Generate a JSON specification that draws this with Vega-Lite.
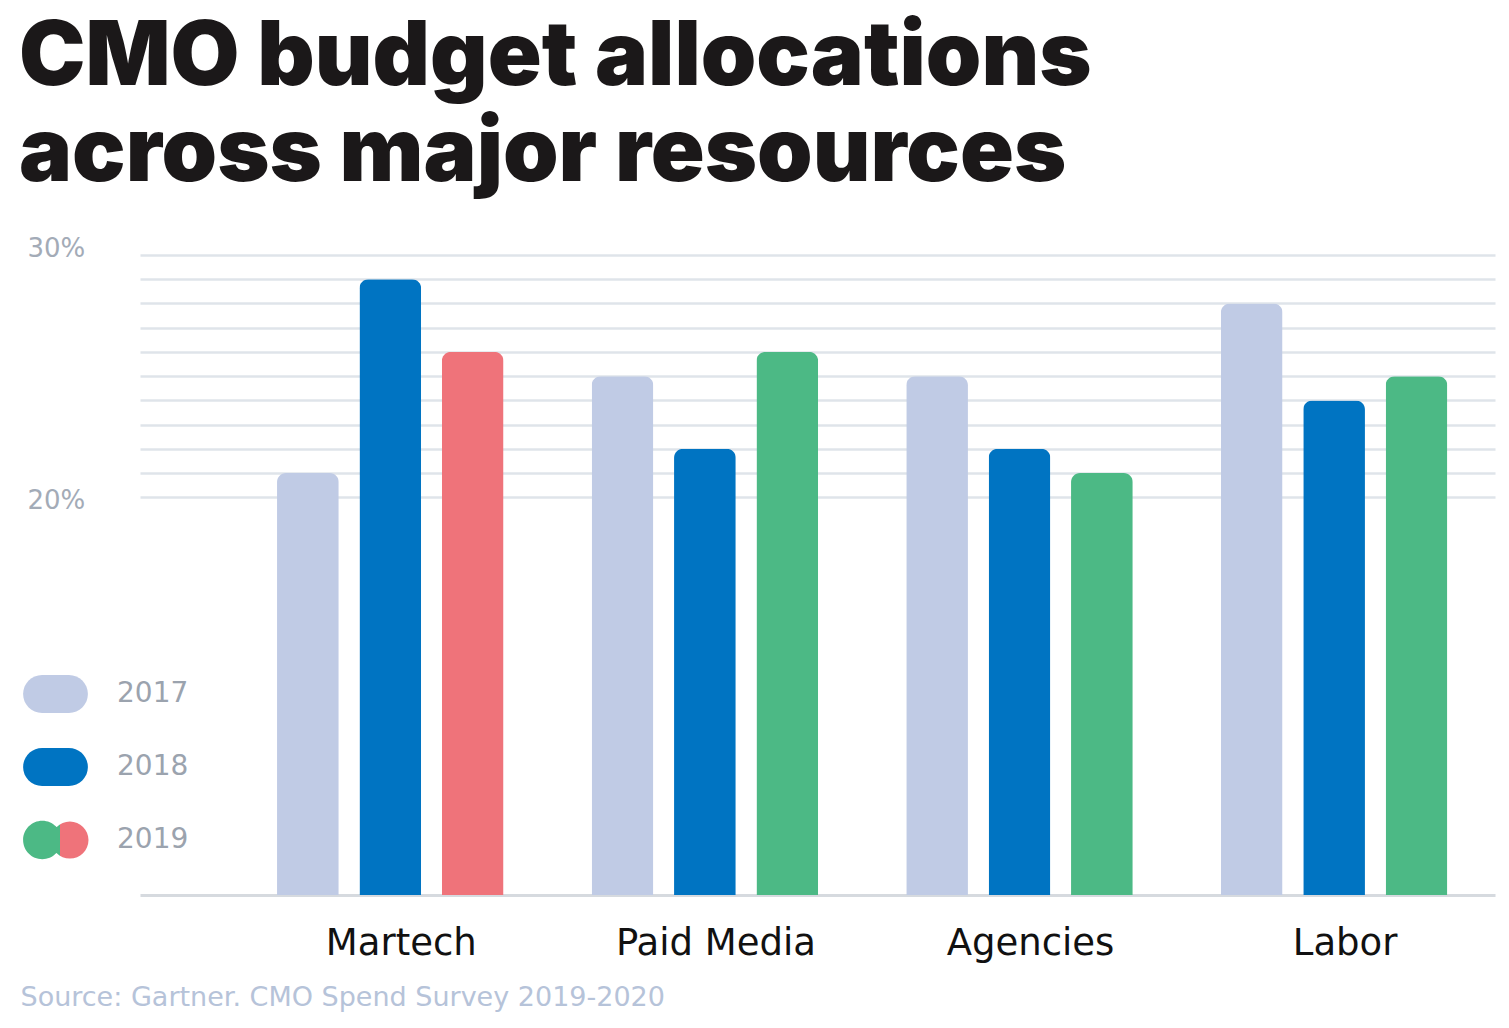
{
  "$schema": "https://vega.github.io/schema/vega-lite/v6.json",
  "width": 1355,
  "height": 640,
  "autosize": "none",
  "padding": {"left": 140, "top": 255, "right": 14, "bottom": 133},
  "background": "#ffffff",
  "config": {"view": {"stroke": null}, "font": "DejaVu Sans"},
  "title": {
    "text": ["CMO budget allocations", "across major resources"],
    "anchor": "start",
    "frame": "group",
    "font": "Inter",
    "fontWeight": 900,
    "fontSize": 89,
    "lineHeight": 96,
    "color": "#1b1819",
    "dx": -121,
    "offset": 35
  },
  "data": {
    "values": [
      {"resource": "Martech", "year": "2017", "share": 21},
      {"resource": "Martech", "year": "2018", "share": 29},
      {"resource": "Martech", "year": "2019", "share": 26},
      {"resource": "Paid Media", "year": "2017", "share": 25},
      {"resource": "Paid Media", "year": "2018", "share": 22},
      {"resource": "Paid Media", "year": "2019", "share": 26},
      {"resource": "Agencies", "year": "2017", "share": 25},
      {"resource": "Agencies", "year": "2018", "share": 22},
      {"resource": "Agencies", "year": "2019", "share": 21},
      {"resource": "Labor", "year": "2017", "share": 28},
      {"resource": "Labor", "year": "2018", "share": 24},
      {"resource": "Labor", "year": "2019", "share": 25}
    ]
  },
  "mark": {"type": "bar", "cornerRadiusTopLeft": 9, "cornerRadiusTopRight": 9},
  "encoding": {
    "x": {
      "field": "resource",
      "type": "nominal",
      "sort": ["Martech", "Paid Media", "Agencies", "Labor"],
      "scale": {"paddingInner": 0.28, "paddingOuter": 0.2935, "align": 0.742},
      "axis": {
        "title": "Source: Gartner. CMO Spend Survey 2019-2020",
        "titleFont": "DejaVu Sans",
        "titleFontSize": 27,
        "titleFontWeight": "normal",
        "titleColor": "#b6c3d9",
        "titleAnchor": "start",
        "titleAlign": "left",
        "titleX": -120,
        "titleY": 110,
        "titleBaseline": "alphabetic",
        "labelAngle": 0,
        "labelFont": "DejaVu Sans",
        "labelFontSize": 37,
        "labelColor": "#111111",
        "labelPadding": 30,
        "labelOffset": 11,
        "labelLimit": 400,
        "labelOverlap": false,
        "ticks": false,
        "tickSize": 0,
        "grid": false,
        "domainColor": "#d6dadf",
        "domainWidth": 3
      }
    },
    "xOffset": {
      "field": "year",
      "type": "nominal",
      "scale": {"paddingInner": 0.251, "paddingOuter": 0}
    },
    "y": {
      "field": "share",
      "type": "quantitative",
      "scale": {"domain": [3.59, 30], "zero": false, "nice": false, "clamp": true},
      "axis": {
        "title": null,
        "values": [20, 21, 22, 23, 24, 25, 26, 27, 28, 29, 30],
        "labelExpr": "datum.value == 20 || datum.value == 30 ? datum.value + '%' : ''",
        "grid": true,
        "gridColor": "#dfe4ea",
        "gridWidth": 2.5,
        "domain": false,
        "ticks": false,
        "tickSize": 0,
        "labelAlign": "left",
        "labelBaseline": "middle",
        "labelPadding": 113,
        "labelOffset": {"condition": {"test": "datum.value == 30", "value": -7}, "value": 3},
        "labelFont": "DejaVu Sans",
        "labelFontSize": 26,
        "labelColor": "#a3abb7"
      }
    },
    "fill": {
      "condition": [
        {"test": "datum.resource === 'Martech' && datum.year === '2019'", "value": "#ef737a"},
        {"test": "datum.year === '2019'", "value": "#4cb985"}
      ],
      "field": "year",
      "type": "nominal",
      "scale": {
        "domain": ["2017", "2018", "2019"],
        "range": [
          "#c0cbe5",
          "#0074c2",
          {"expr": "{gradient: 'linear', x1: 0, y1: 0, x2: 1, y2: 0, stops: [{offset: 0, color: '#4cb985'}, {offset: 0.56, color: '#4cb985'}, {offset: 0.56, color: '#ef737a'}, {offset: 1, color: '#ef737a'}]}"}
        ]
      },
      "legend": {
        "title": null,
        "orient": "none",
        "legendX": -104.5,
        "legendY": 419,
        "direction": "vertical",
        "padding": 0,
        "symbolSize": 1600,
        "symbolType": "M-0.67,-0.95L0.67,-0.95A0.95,0.95,0,0,1,0.67,0.95L-0.67,0.95A0.95,0.95,0,0,1,-0.67,-0.95Z",
        "symbolStrokeWidth": 0,
        "symbolOpacity": 1,
        "rowPadding": 34,
        "labelOffset": 41.5,
        "labelFont": "DejaVu Sans",
        "labelFontSize": 28,
        "labelColor": "#9ba3ae",
        "encode": {
          "symbols": {
            "update": {
              "shape": [
                {"test": "datum.value === '2019'", "value": "M-1.62,0A0.96,0.96,0,1,1,0.30,0A0.96,0.96,0,1,1,-1.62,0Z M-0.21,0A0.93,0.93,0,1,1,1.65,0A0.93,0.93,0,1,1,-0.21,0Z"},
                {"value": "M-0.67,-0.95L0.67,-0.95A0.95,0.95,0,0,1,0.67,0.95L-0.67,0.95A0.95,0.95,0,0,1,-0.67,-0.95Z"}
              ]
            }
          }
        }
      }
    }
  }
}
